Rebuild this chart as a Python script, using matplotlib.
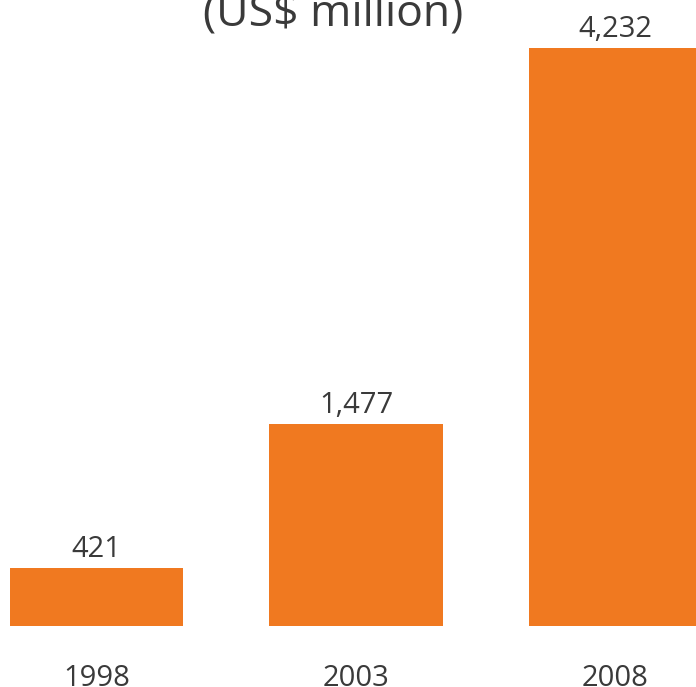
import matplotlib
matplotlib.use("Agg")
import matplotlib.pyplot as plt

years = ["1998", "2003", "2008"]
values = [421, 1477, 4232]
title = "(US$ million)"

bar_color = "#F07920"
text_color = "#3A3A3A"
plt.rcParams["font.family"] = ["Open Sans", "DejaVu Sans"]

fig = plt.figure(figsize=(6.96, 6.87), dpi=100)
ax = fig.add_axes([0, 61 / 687, 1, 626 / 687])
pos = list(range(len(years)))
ax.bar(pos, values, width=0.667, color=bar_color)
ax.set_xlim(-0.372, 2.310)
ax.set_ylim(0, 4583)
ax.axis("off")

for x, v in zip(pos, values):
    ax.annotate(f"{v:,}", (x, v), xytext=(0, 8), textcoords="offset points",
                ha="center", va="baseline", fontsize=21, color=text_color)
    ax.annotate(years[x], (x, 0), xytext=(0, -43), textcoords="offset points",
                ha="center", va="baseline", fontsize=21, color=text_color)

fig.text(333 / 696, 1 - 27 / 687, title, ha="center", va="baseline",
         fontsize=32, color=text_color)

fig.savefig("out.png", dpi=100)
